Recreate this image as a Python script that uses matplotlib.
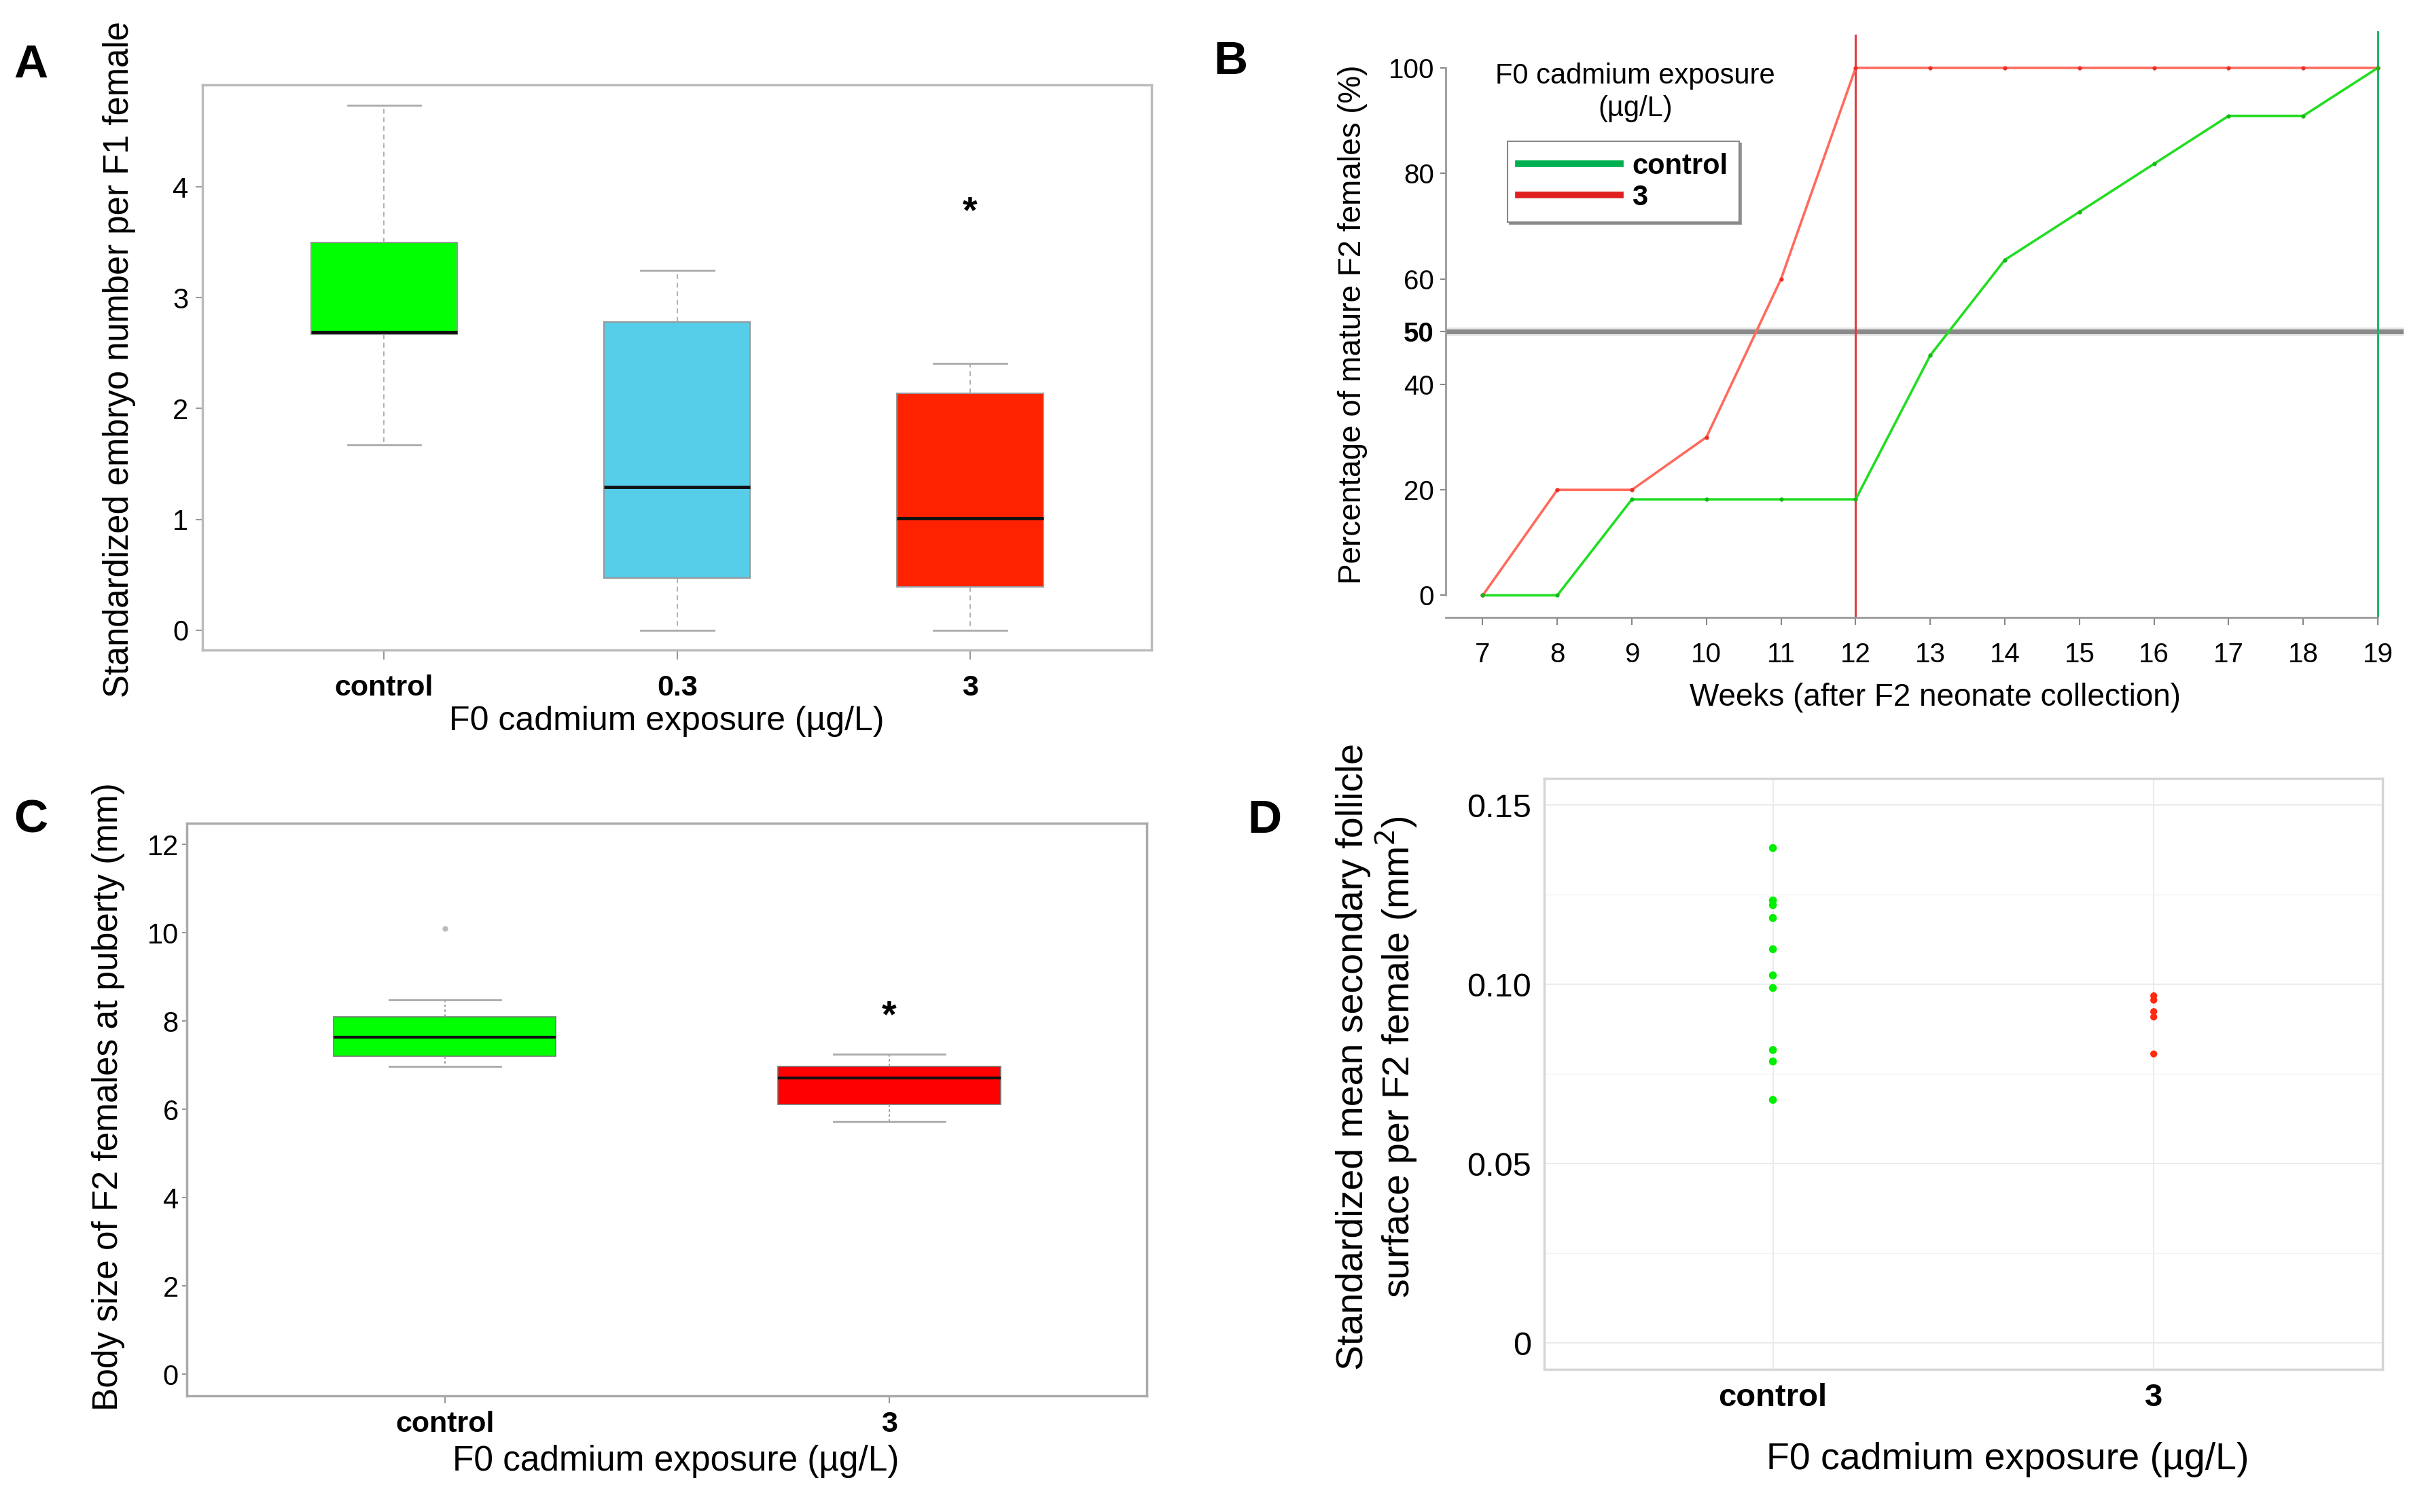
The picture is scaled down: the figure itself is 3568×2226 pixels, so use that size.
import numpy as np
import matplotlib
matplotlib.use("Agg")
import matplotlib.pyplot as plt
from matplotlib.lines import Line2D

plt.rcParams['font.family'] = ['Liberation Sans', 'DejaVu Sans']

# ---------------- data ----------------
# Panel A: boxplot stats
A_groups = ['control', '0.3', '3']
A_whislo = [1.67, 0.00, 0.00]
A_q1 = [2.67, 0.47, 0.39]
A_med = [2.69, 1.29, 1.01]
A_q3 = [3.50, 2.78, 2.14]
A_whishi = [4.74, 3.25, 2.41]
A_colors = ['#00FF00', '#56CDE9', '#FF2200']
A_star_group = 3
A_star_y = 3.77

# Panel B: cumulative maturity
B_weeks = [7, 8, 9, 10, 11, 12, 13, 14, 15, 16, 17, 18, 19]
B_control = [0, 0, 18.2, 18.2, 18.2, 18.2, 45.5, 63.6, 72.7, 81.8, 90.9, 90.9, 100]
B_cd3 = [0, 20, 20, 30, 60, 100, 100, 100, 100, 100, 100, 100, 100]
B_yticks = [0, 20, 40, 50, 60, 80, 100]
B_threshold = 50

# Panel C: boxplot stats
C_groups = ['control', '3']
C_whislo = [6.98, 5.73]
C_q1 = [7.20, 6.11]
C_med = [7.64, 6.71]
C_q3 = [8.09, 6.98]
C_whishi = [8.48, 7.25]
C_fliers = [[10.1], []]
C_colors = ['#00FF00', '#FF0000']
C_star_group = 2
C_star_y = 8.1

# Panel D: individual points
D_groups = ['control', '3']
D_control = [0.1380, 0.1234, 0.1221, 0.1185, 0.1098, 0.1025, 0.0990, 0.0817, 0.0785, 0.0678]
D_cd3 = [0.0968, 0.0956, 0.0924, 0.0909, 0.0806]

xlabel_txt = 'F0 cadmium exposure (\u00b5g/L)'

fig = plt.figure(figsize=(35.68, 22.26), dpi=100)

W0, H0 = 1568.0, 977.0

def frac(l, r, t, b, W=W0, H=H0):
    return [l / W, 1 - b / H, (r - l) / W, (b - t) / H]

spine_col = '#BBBBBB'

# ---------------- Panel A ----------------
axA = fig.add_axes(frac(131, 745, 55, 420))
statsA = [dict(whislo=a, q1=b, med=c, q3=d, whishi=e, fliers=[], label=g)
          for a, b, c, d, e, g in zip(A_whislo, A_q1, A_med, A_q3, A_whishi, A_groups)]
posA = np.arange(1, len(A_groups) + 1)
bpA = axA.bxp(statsA, positions=posA, widths=0.5, patch_artist=True, showfliers=False,
              boxprops=dict(edgecolor='#9A9A9A', linewidth=1.5),
              medianprops=dict(color='#111111', linewidth=3.5),
              whiskerprops=dict(color='#AAAAAA', linewidth=1.3, linestyle=(0, (4, 3))),
              capprops=dict(color='#AAAAAA', linewidth=2.0), capwidths=0.25)
for patch, c in zip(bpA['boxes'], A_colors):
    patch.set_facecolor(c)
axA.text(A_star_group, A_star_y, '*', ha='center', va='center', fontsize=40, fontweight='bold')
axA.set_xlim(0.38, 3.62)
axA.set_ylim(-0.18, 4.92)
axA.set_yticks([0, 1, 2, 3, 4])
axA.set_xticks(posA)
axA.set_xticklabels(A_groups, fontweight='bold', fontsize=31)
axA.tick_params(axis='y', labelsize=30, length=7, width=1.5, color='#999999', pad=8)
axA.tick_params(axis='x', length=10, width=1.5, color='#999999', pad=16)
for s in axA.spines.values():
    s.set_color(spine_col); s.set_linewidth(2.5)
axA.text(-0.088, 0.515, 'Standardized embryo number per F1 female', rotation=90,
         transform=axA.transAxes, ha='center', va='center', fontsize=36.5)
axA.text(0.489, -0.126, xlabel_txt, transform=axA.transAxes, ha='center', va='center', fontsize=36)

# ---------------- Panel B ----------------
axB = fig.add_axes(frac(935, 1555, 20, 399))
wk = np.array(B_weeks)
ctrl = np.array(B_control)
cd = np.array(B_cd3)
axB.axhline(B_threshold, color='#8A8A8A', linewidth=5, zorder=1)
axB.axhline(B_threshold, color='#CFCFCF', linewidth=9, alpha=0.5, zorder=0)
axB.plot(wk, cd, color='#FF6A5C', linewidth=2.6, zorder=3)
axB.plot(wk, cd, 'o', color='#E83028', markersize=3.5, zorder=4)
axB.plot(wk, ctrl, color='#22DD22', linewidth=2.6, zorder=3)
axB.plot(wk, ctrl, 'o', color='#16B816', markersize=3.5, zorder=4)
x_red_full = wk[np.argmax(cd >= 100)]
x_green_full = wk[np.argmax(ctrl >= 100)]
axB.axvline(x_red_full, ymin=0, ymax=0.9925, color='#E23A44', linewidth=2.2, zorder=2)
axB.axvline(x_green_full, ymin=0, ymax=1.0, color='#1DB36B', linewidth=2.2, zorder=2)
axB.set_xlim(6.5, 19.35)
axB.set_ylim(-4.2, 107)
axB.set_xticks(B_weeks)
axB.set_yticks(B_yticks)
axB.set_yticklabels([str(v) for v in B_yticks])
for lab, v in zip(axB.get_yticklabels(), B_yticks):
    if v == B_threshold:
        lab.set_fontweight('bold')
axB.tick_params(axis='both', labelsize=29, color='#888888', width=1.5)
axB.tick_params(axis='x', length=8, pad=18)
axB.tick_params(axis='y', length=6, pad=6)
axB.spines['top'].set_visible(False)
axB.spines['right'].set_visible(False)
axB.spines['left'].set_bounds(0, 100)
axB.spines['bottom'].set_bounds(6.5, 19)
for s in ['left', 'bottom']:
    axB.spines[s].set_color('#999999'); axB.spines[s].set_linewidth(2)
axB.text(-0.097, 0.499, 'Percentage of mature F2 females (%)', rotation=90,
         transform=axB.transAxes, ha='center', va='center', fontsize=33)
axB.text(0.511, -0.137, 'Weeks (after F2 neonate collection)', transform=axB.transAxes,
         ha='center', va='center', fontsize=33)
axB.text(0.198, 0.895, 'F0 cadmium exposure\n(\u00b5g/L)', transform=axB.transAxes,
         ha='center', va='center', fontsize=30, linespacing=1.25)
handles = [Line2D([], [], color='#00B050', linewidth=7),
           Line2D([], [], color='#E02020', linewidth=7)]
leg = axB.legend(handles, ['control', '3'], loc='upper left', bbox_to_anchor=(0.0646, 0.812),
                 borderaxespad=0, fancybox=False, shadow=True, frameon=True,
                 prop=dict(size=30, weight='bold'), handlelength=3.6, borderpad=0.4,
                 labelspacing=0.15, handletextpad=0.4)
leg.get_frame().set_edgecolor('#888888')
leg.get_frame().set_linewidth(1.5)

# ---------------- Panel C ----------------
axC = fig.add_axes(frac(121, 742, 532, 902))
statsC = [dict(whislo=a, q1=b, med=c, q3=d, whishi=e, fliers=f, label=g)
          for a, b, c, d, e, f, g in zip(C_whislo, C_q1, C_med, C_q3, C_whishi, C_fliers, C_groups)]
posC = np.arange(1, len(C_groups) + 1)
bpC = axC.bxp(statsC, positions=posC, widths=0.5, patch_artist=True, showfliers=True,
              boxprops=dict(edgecolor='#777777', linewidth=1.2),
              medianprops=dict(color='#111111', linewidth=3),
              whiskerprops=dict(color='#999999', linewidth=1.3, linestyle=(0, (2, 2))),
              capprops=dict(color='#AAAAAA', linewidth=2.0), capwidths=0.25,
              flierprops=dict(marker='o', markersize=5, markerfacecolor='#BBBBBB',
                              markeredgecolor='#BBBBBB'))
for patch, c in zip(bpC['boxes'], C_colors):
    patch.set_facecolor(c)
axC.text(C_star_group, C_star_y, '*', ha='center', va='center', fontsize=40, fontweight='bold')
axC.set_xlim(0.42, 2.58)
axC.set_ylim(-0.49, 12.48)
axC.set_yticks([0, 2, 4, 6, 8, 10, 12])
axC.set_xticks(posC)
axC.set_xticklabels(C_groups, fontweight='bold', fontsize=31)
axC.tick_params(axis='y', labelsize=30, length=5, width=1.5, color='#999999', pad=4)
axC.tick_params(axis='x', length=8, width=1.5, color='#999999', pad=8)
for s in axC.spines.values():
    s.set_color('#AAAAAA'); s.set_linewidth(2.5)
axC.text(-0.082, 0.522, 'Body size of F2 females at puberty (mm)', rotation=90,
         transform=axC.transAxes, ha='center', va='center', fontsize=37)
axC.text(0.509, -0.114, xlabel_txt, transform=axC.transAxes, ha='center', va='center', fontsize=37)

# ---------------- Panel D ----------------
axD = fig.add_axes(frac(999, 1541, 503, 885))
axD.set_axisbelow(True)
axD.scatter(np.full(len(D_control), 1), D_control, s=70, color='#00EE00', edgecolors='none', zorder=3)
axD.scatter(np.full(len(D_cd3), 2), D_cd3, s=55, color='#FF2A10', edgecolors='none', zorder=3)
axD.set_xlim(0.4, 2.6)
axD.set_ylim(-0.0074, 0.1574)
axD.set_xticks([1, 2])
axD.set_xticklabels(D_groups, fontweight='bold', fontsize=34)
axD.set_yticks([0, 0.05, 0.10, 0.15])
axD.set_yticklabels(['0', '0.05', '0.10', '0.15'])
axD.set_yticks([0.025, 0.075, 0.125], minor=True)
axD.grid(True, which='major', color='#EBEBEB', linewidth=1.5)
axD.grid(True, which='minor', axis='y', color='#F3F3F3', linewidth=1.0)
axD.tick_params(axis='both', which='both', length=0)
axD.tick_params(axis='y', labelsize=35, pad=14)
axD.tick_params(axis='x', pad=14)
for s in axD.spines.values():
    s.set_color('#D5D5D5'); s.set_linewidth(2.5)
axD.text(-0.199, 0.529, 'Standardized mean secondary follicle\nsurface per F2 female (mm$^2$)',
         rotation=90, transform=axD.transAxes, ha='center', va='center', fontsize=40,
         linespacing=1.1)
axD.text(0.553, -0.152, xlabel_txt, transform=axD.transAxes, ha='center', va='center', fontsize=40)

# ---------------- panel letters ----------------
for lt, x, y in [('A', 20, 42), ('B', 796, 40), ('C', 20, 530), ('D', 818, 530)]:
    fig.text(x / W0, 1 - y / H0, lt, fontsize=50, fontweight='bold', ha='center', va='center')

fig.savefig('out.png', dpi=100, facecolor='white')
